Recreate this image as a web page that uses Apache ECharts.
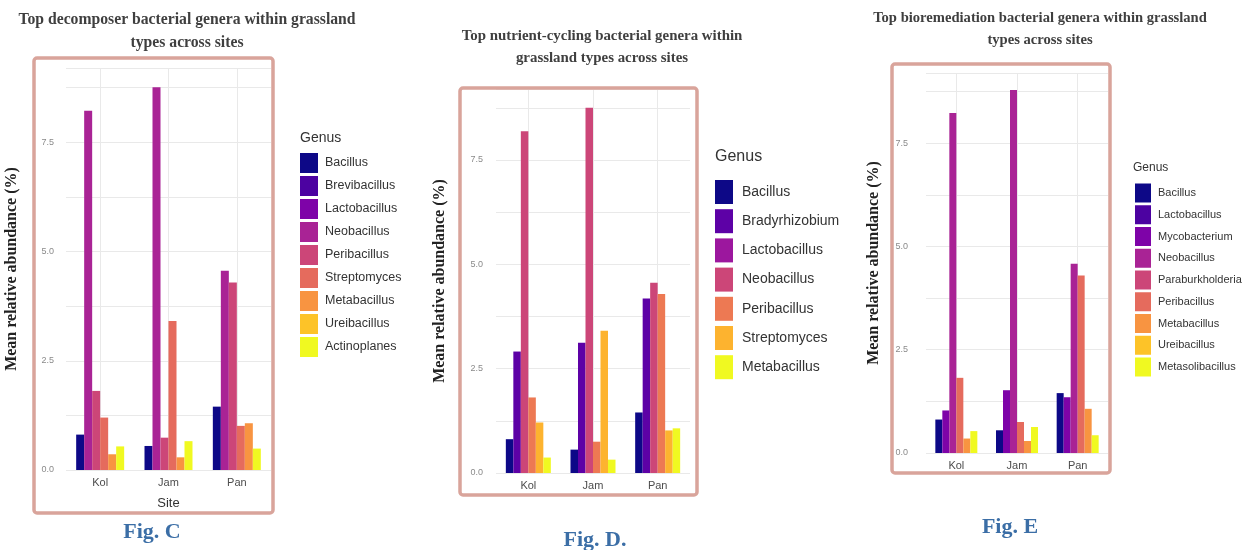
<!DOCTYPE html>
<html><head><meta charset="utf-8">
<script src="https://cdn.jsdelivr.net/npm/echarts@6/dist/echarts.min.js"></script>
<style>
html,body{margin:0;padding:0;background:#fff;width:1259px;height:550px;overflow:hidden}
.p{position:absolute;top:0;height:550px}
</style></head>
<body>
<div id="c" class="p" style="left:0;width:430px"></div>
<div id="d" class="p" style="left:430px;width:430px"></div>
<div id="e" class="p" style="left:860px;width:399px"></div>
<script>
// ---------- data ----------
const sites = ['Kol', 'Jam', 'Pan'];
const yTickValues = [0, 2.5, 5, 7.5];

// Fig. C – decomposers
const decomposerGenera = ['Bacillus','Brevibacillus','Lactobacillus','Neobacillus','Peribacillus','Streptomyces','Metabacillus','Ureibacillus','Actinoplanes'];
const decBacillus      = [0.81, 0.55, 1.45];
const decNeobacillus   = [8.22, 8.76, 4.56];
const decPeribacillus  = [1.81, 0.74, 4.29];
const decStreptomyces  = [1.20, 3.41, 1.01];
const decMetabacillus  = [0.36, 0.29, 1.07];
const decActinoplanes  = [0.54, 0.66, 0.49];

// Fig. D – nutrient cycling
const nutrientGenera = ['Bacillus','Bradyrhizobium','Lactobacillus','Neobacillus','Peribacillus','Streptomyces','Metabacillus'];
const nutBacillus        = [0.81, 0.56, 1.45];
const nutBradyrhizobium  = [2.91, 3.12, 4.18];
const nutNeobacillus     = [8.19, 8.75, 4.56];
const nutPeribacillus    = [1.81, 0.75, 4.29];
const nutStreptomyces    = [1.21, 3.41, 1.02];
const nutMetabacillus    = [0.37, 0.32, 1.07];

// Fig. E – bioremediation
const bioremGenera = ['Bacillus','Lactobacillus','Mycobacterium','Neobacillus','Paraburkholderia','Peribacillus','Metabacillus','Ureibacillus','Metasolibacillus'];
const bioBacillus          = [0.81, 0.55, 1.45];
const bioMycobacterium     = [1.03, 1.52, 1.35];
const bioNeobacillus       = [8.23, 8.79, 4.58];
const bioPeribacillus      = [1.82, 0.75, 4.30];
const bioMetabacillus      = [0.35, 0.29, 1.07];
const bioMetasolibacillus  = [0.53, 0.63, 0.43];

// ---------- styles ----------
const plasma9 = ['#0D0887','#4C02A1','#7E03A8','#A92395','#CC4678','#E56B5D','#F89441','#FDC328','#F0F921'];
const plasma7 = ['#0D0887','#5D01A6','#9C179E','#CC4678','#ED7953','#FDB32F','#F0F921'];
const SERIF = '"Liberation Serif","DejaVu Serif",serif';
const SANS = '"Liberation Sans",Arial,sans-serif';

function buildPanel(el, p) {
  const chart = echarts.init(document.getElementById(el), null, {renderer: 'canvas'});
  const series = p.genera.map((g, i) => {
    const v = p.values[i];
    return {
      name: g, type: 'bar',
      xAxisIndex: v ? 0 : 1,
      data: v || [],
      barWidth: p.barWidth, barGap: '0%',
      itemStyle: {color: p.colors[i]},
      silent: true
    };
  });
  chart.setOption({
    animation: false,
    grid: {left: p.grid.left, top: p.grid.top, width: p.grid.width, height: p.grid.height},
    xAxis: [{
      type: 'category', data: sites,
      axisLine: {show: false}, axisTick: {show: false},
      axisLabel: {color: '#4d4d4d', fontSize: 11, fontFamily: SANS, margin: 7},
      splitLine: {show: true, alignWithLabel: true, lineStyle: {color: '#e9e9e9', width: 1}},
      name: p.xName || '', nameLocation: 'middle', nameGap: 27,
      nameTextStyle: {color: '#333', fontSize: 13, fontFamily: SANS}
    }, {
      type: 'category', data: sites, show: false
    }],
    yAxis: {
      type: 'value', min: 0, max: 9.2, interval: 1.25,
      axisLine: {show: false}, axisTick: {show: false},
      axisLabel: {
        color: '#8a8a8a', fontSize: 9, fontFamily: SANS, margin: p.labelMargin, showMaxLabel: false,
        formatter: v => yTickValues.some(t => Math.abs(t - v) < 1e-6) ? v.toFixed(1) : ''
      },
      splitLine: {show: true, lineStyle: {color: '#e9e9e9', width: 1}},
      name: 'Mean relative abundance (%)', nameLocation: 'middle', nameGap: p.nameGap,
      nameTextStyle: {color: '#222', fontSize: 16, fontWeight: 'bold', fontFamily: SERIF}
    },
    legend: {
      data: p.genera, orient: 'vertical', icon: 'rect',
      left: p.legend.left, top: p.legend.top, padding: 0,
      itemWidth: p.legend.w, itemHeight: p.legend.h, itemGap: p.legend.gap,
      selectedMode: false,
      textStyle: {color: '#333', fontSize: p.legend.font, fontFamily: SANS, padding: [0, 0, 0, p.legend.pad]}
    },
    graphic: [
      {type: 'rect', z: 100, silent: true,
       shape: {x: p.border.x, y: p.border.y, width: p.border.w, height: p.border.h, r: 3},
       style: {fill: 'none', stroke: '#D9A49B', lineWidth: 3.5}},
      {type: 'text', z: 100, silent: true,
       style: {text: p.title.text, x: p.title.x, y: p.title.y, align: 'center', verticalAlign: 'middle',
               fontFamily: SERIF, fontWeight: 'bold', fontSize: p.title.size, lineHeight: p.title.lh, fill: '#3f3f3f'}},
      {type: 'text', z: 100, silent: true,
       style: {text: 'Genus', x: p.genus.x, y: p.genus.y, align: 'left', verticalAlign: 'middle',
               fontFamily: SANS, fontSize: p.genus.size, fill: '#333'}},
      {type: 'text', z: 100, silent: true,
       style: {text: p.fig.text, x: p.fig.x, y: p.fig.y, align: 'center', verticalAlign: 'middle',
               fontFamily: SERIF, fontWeight: 'bold', fontSize: 22, fill: '#3B6EA6'}}
    ],
    series: series
  });
}

buildPanel('c', {
  genera: decomposerGenera, colors: plasma9,
  values: [decBacillus, null, null, decNeobacillus, decPeribacillus, decStreptomyces, decMetabacillus, null, decActinoplanes],
  barWidth: 8,
  grid: {left: 66, top: 68, width: 205, height: 402},
  labelMargin: 12, nameGap: 46, xName: 'Site',
  legend: {left: 300, top: 153, w: 18, h: 20, gap: 3, font: 12.5, pad: 2},
  border: {x: 34, y: 58, w: 239, h: 455},
  title: {text: 'Top decomposer bacterial genera within grassland\ntypes across sites', x: 187, y: 31.5, size: 15.7, lh: 23},
  genus: {x: 300, y: 138, size: 14},
  fig: {text: 'Fig. C', x: 152, y: 532}
});

buildPanel('d', {
  genera: nutrientGenera, colors: plasma7,
  values: [nutBacillus, nutBradyrhizobium, null, nutNeobacillus, nutPeribacillus, nutStreptomyces, nutMetabacillus],
  barWidth: 7.5,
  grid: {left: 66, top: 89, width: 194, height: 384},
  labelMargin: 13, nameGap: 48,
  legend: {left: 285, top: 180, w: 18, h: 24, gap: 5.2, font: 14, pad: 4},
  border: {x: 30, y: 88, w: 237, h: 407},
  title: {text: 'Top nutrient-cycling bacterial genera within\ngrassland types across sites', x: 172, y: 47, size: 14.9, lh: 22},
  genus: {x: 285, y: 157, size: 16},
  fig: {text: 'Fig. D.', x: 165, y: 540}
});

buildPanel('e', {
  genera: bioremGenera, colors: plasma9,
  values: [bioBacillus, null, bioMycobacterium, bioNeobacillus, null, bioPeribacillus, bioMetabacillus, null, bioMetasolibacillus],
  barWidth: 7,
  grid: {left: 66, top: 73, width: 182, height: 380},
  labelMargin: 18, nameGap: 44,
  legend: {left: 275, top: 183.5, w: 16, h: 19, gap: 2.75, font: 11, pad: 2},
  border: {x: 32, y: 64, w: 218, h: 409},
  title: {text: 'Top bioremediation bacterial genera within grassland\ntypes across sites', x: 180, y: 29, size: 14.6, lh: 22},
  genus: {x: 273, y: 168, size: 12},
  fig: {text: 'Fig. E', x: 150, y: 527}
});
</script>
</body></html>
